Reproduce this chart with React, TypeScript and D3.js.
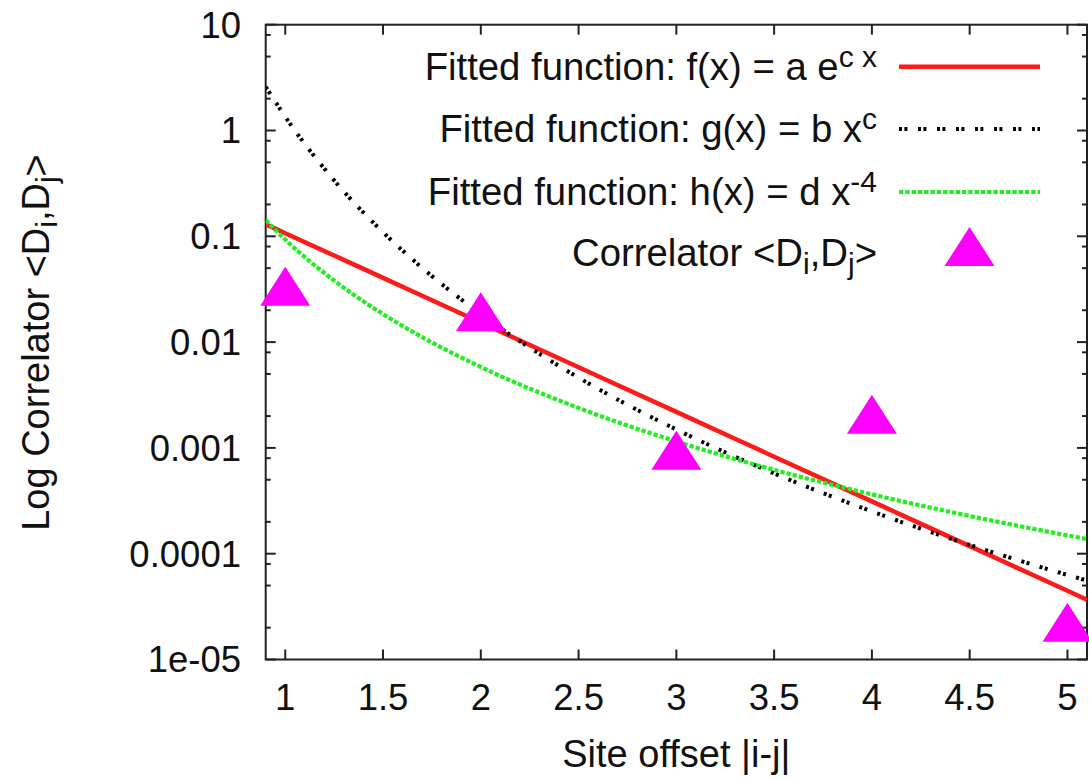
import React from "react";
import * as d3 from "d3";

// ---- data ----
const xTickValues = [1, 1.5, 2, 2.5, 3, 3.5, 4, 4.5, 5];
const xTickLabels = ["1", "1.5", "2", "2.5", "3", "3.5", "4", "4.5", "5"];
const yTickValues = [1e-5, 1e-4, 1e-3, 1e-2, 1e-1, 1, 10];
const yTickLabels = ["1e-05", "0.0001", "0.001", "0.01", "0.1", "1", "10"];
const yMinorMultipliers = [2, 5, 8];

const siteOffsets = [1, 2, 3, 4, 5];
const correlatorValues = [0.0292, 0.0168, 0.000824, 0.00181, 1.95e-5];

const curveX = [0.9, 1, 1.25, 1.5, 1.75, 2, 2.5, 3, 3.5, 4, 4.5, 5, 5.1];
const fitExpValues = [0.13, 0.107, 0.0658, 0.0405, 0.02487, 0.0153, 0.00578, 0.00219, 0.000826, 0.000312, 0.000118, 4.46e-5, 3.67e-5];
const fitPowValues = [2.59, 1.348, 0.338, 0.1093, 0.04206, 0.01839, 0.004616, 0.001492, 0.000574, 0.000251, 0.000121, 6.3e-5, 5.57e-5];
const fitQuarticValues = [0.1419, 0.0931, 0.03814, 0.01839, 0.00993, 0.005818, 0.002384, 0.00115, 0.00062, 0.000364, 0.000227, 0.000149, 0.0001376];

const FONT = "'Liberation Sans', Arial, Helvetica, sans-serif";

export default function App() {
  const left = 265.7, right = 1087, top = 24.7, bottom = 659.5;
  const x = d3.scaleLinear().domain([0.9, 5.1]).range([left, right]);
  const y = d3.scaleLog().domain([1e-5, 10]).range([bottom, top]);

  const line = d3
    .line<[number, number]>()
    .x((d) => x(d[0]))
    .y((d) => y(d[1]))
    .curve(d3.curveMonotoneX);

  const toPts = (vals: number[]) => curveX.map((cx, i) => [cx, vals[i]] as [number, number]);

  const minorTicks: number[] = [];
  yTickValues.slice(0, -1).forEach((v) => {
    yMinorMultipliers.forEach((m) => minorTicks.push(v * m));
  });

  const triW = 50, triH = 39;
  const tri = (cx: number, cy: number) =>
    `M${cx},${cy - (triH * 2) / 3} L${cx + triW / 2},${cy + triH / 3} L${cx - triW / 2},${cy + triH / 3} Z`;

  const axisColor = "#222";
  const legendTextX = 877;
  const legendLineX1 = 899, legendLineX2 = 1040;
  const rows = [66.7, 129, 192, 253];
  const fs = 38.3;
  const sup = 30;
  const tickFs = 36.5;
  const labelFs = 38;
  const dotDash = "3 2.4 3 10.6";

  return (
    <svg
      width={1089}
      height={779}
      style={{ position: "absolute", left: 0, top: 0, display: "block", background: "#fff" }}
      fontFamily={FONT}
    >
      <defs>
        <clipPath id="plotClip">
          <rect x={left} y={top} width={right - left} height={bottom - top} />
        </clipPath>
      </defs>

      {/* border */}
      <rect x={left} y={top} width={right - left} height={bottom - top} fill="none" stroke={axisColor} strokeWidth={2} />

      {/* x ticks */}
      {xTickValues.map((v, i) => (
        <g key={"xt" + i}>
          <line x1={x(v)} x2={x(v)} y1={bottom} y2={bottom - 10} stroke={axisColor} strokeWidth={2} />
          <line x1={x(v)} x2={x(v)} y1={top} y2={top + 10} stroke={axisColor} strokeWidth={2} />
          <text x={x(v)} y={709.5} textAnchor="middle" fontSize={tickFs} fill="#111">
            {xTickLabels[i]}
          </text>
        </g>
      ))}

      {/* y ticks */}
      {yTickValues.map((v, i) => (
        <g key={"yt" + i}>
          <line x1={left} x2={left + 10} y1={y(v)} y2={y(v)} stroke={axisColor} strokeWidth={2} />
          <line x1={right} x2={right - 10} y1={y(v)} y2={y(v)} stroke={axisColor} strokeWidth={2} />
          <text x={241} y={y(v) + 12.8} textAnchor="end" fontSize={tickFs} fill="#111">
            {yTickLabels[i]}
          </text>
        </g>
      ))}
      {minorTicks.map((v, i) => (
        <g key={"ym" + i}>
          <line x1={left} x2={left + 5} y1={y(v)} y2={y(v)} stroke={axisColor} strokeWidth={2} />
          <line x1={right} x2={right - 5} y1={y(v)} y2={y(v)} stroke={axisColor} strokeWidth={2} />
        </g>
      ))}

      {/* curves */}
      <g clipPath="url(#plotClip)" fill="none">
        <path d={line(toPts(fitExpValues)) || ""} stroke="#ff1a1a" strokeWidth={4.5} />
        <path d={line(toPts(fitPowValues)) || ""} stroke="#000" strokeWidth={4} strokeDasharray={dotDash} />
        <path d={line(toPts(fitQuarticValues)) || ""} stroke="#22ee22" strokeWidth={4.2} strokeDasharray="4.3 2" />
      </g>

      {/* data points */}
      {siteOffsets.map((s, i) => (
        <path key={"p" + i} d={tri(x(s), y(correlatorValues[i]))} fill="#ff00ff" />
      ))}

      {/* legend */}
      <text x={legendTextX} y={rows[0] + 13} textAnchor="end" fontSize={fs} fill="#111">
        <tspan>Fitted function: f(x) = a e</tspan>
        <tspan fontSize={sup} dy={-13}>{"c x"}</tspan>
      </text>
      <line x1={legendLineX1} x2={legendLineX2} y1={rows[0]} y2={rows[0]} stroke="#ff1a1a" strokeWidth={4.5} />

      <text x={legendTextX} y={rows[1] + 13} textAnchor="end" fontSize={fs} fill="#111">
        <tspan>Fitted function: g(x) = b x</tspan>
        <tspan fontSize={sup} dy={-13}>c</tspan>
      </text>
      <line x1={legendLineX1} x2={legendLineX2} y1={rows[1]} y2={rows[1]} stroke="#000" strokeWidth={4} strokeDasharray={dotDash} />

      <text x={legendTextX} y={rows[2] + 13} textAnchor="end" fontSize={fs} fill="#111">
        <tspan>Fitted function: h(x) = d x</tspan>
        <tspan fontSize={sup} dy={-13}>-4</tspan>
      </text>
      <line x1={legendLineX1} x2={legendLineX2} y1={rows[2]} y2={rows[2]} stroke="#22ee22" strokeWidth={4.2} strokeDasharray="4.3 2" />

      <text x={legendTextX} y={rows[3] + 13} textAnchor="end" fontSize={fs} fill="#111">
        <tspan>{"Correlator <D"}</tspan>
        <tspan fontSize={sup} dy={8}>i</tspan>
        <tspan dy={-8}>,D</tspan>
        <tspan fontSize={sup} dy={8}>j</tspan>
        <tspan dy={-8}>{">"}</tspan>
      </text>
      <path d={tri((legendLineX1 + legendLineX2) / 2, rows[3])} fill="#ff00ff" />

      {/* axis labels */}
      <text x={(left + right) / 2} y={767} textAnchor="middle" fontSize={labelFs} fill="#111">
        Site offset |i-j|
      </text>
      <text transform="translate(49,342.5) rotate(-90)" textAnchor="middle" fontSize={labelFs} fill="#111">
        <tspan>{"Log Correlator <D"}</tspan>
        <tspan fontSize={sup} dy={8}>i</tspan>
        <tspan dy={-8}>,D</tspan>
        <tspan fontSize={sup} dy={8}>j</tspan>
        <tspan dy={-8}>{">"}</tspan>
      </text>
    </svg>
  );
}
